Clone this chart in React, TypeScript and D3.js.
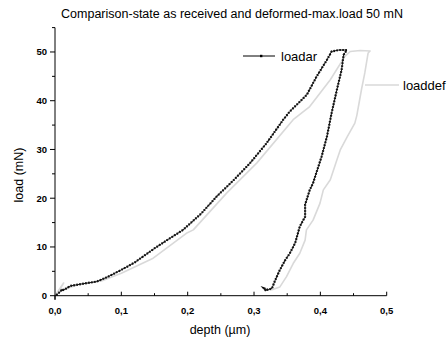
import React from "react";
import * as d3 from "d3";

const title = "Comparison-state as received and deformed-max.load 50 mN";
const xTicks = [0, 0.1, 0.2, 0.3, 0.4, 0.5];
const yTicks = [0, 10, 20, 30, 40, 50];

const loadarDepth = [0.002, 0.006, 0.011, 0.009, 0.015, 0.023, 0.04, 0.063, 0.08, 0.1, 0.12, 0.151, 0.17, 0.193, 0.22, 0.244, 0.27, 0.294, 0.319, 0.344, 0.354, 0.3795, 0.3945, 0.41, 0.417, 0.428, 0.44,
  0.435, 0.432, 0.425, 0.417, 0.41, 0.402, 0.397, 0.389, 0.384, 0.377, 0.377, 0.369, 0.362, 0.354, 0.347, 0.339, 0.332, 0.327, 0.321, 0.315, 0.318];
const loadarLoad = [0.1, 0.6, 1.3, 1.0, 1.3, 2.0, 2.4, 2.9, 3.9, 5.3, 6.8, 9.8, 11.5, 13.5, 16.8, 20.4, 23.8, 27.2, 31.3, 36.1, 37.8, 41.2, 45, 48.4, 50.1, 50.4, 50.4,
  49.4, 46.3, 42.3, 37.5, 32.7, 28.6, 26.5, 23.1, 21.7, 18.7, 16.2, 14.2, 10.8, 8.7, 7.3, 5.3, 3.2, 1.5, 1.2, 1.5, 1.0];

const loaddefDepth = [0.0, 0.013, 0.007, 0.02, 0.038, 0.07, 0.1, 0.148, 0.198, 0.2085, 0.259, 0.304, 0.359, 0.384, 0.415, 0.437, 0.445, 0.46, 0.475,
  0.472, 0.467, 0.462, 0.455, 0.452, 0.44, 0.43, 0.425, 0.415, 0.4045, 0.3995, 0.389, 0.379, 0.377, 0.369, 0.359, 0.349, 0.339, 0.329, 0.324];
const loaddefLoad = [0.0, 2.6, 1.2, 1.6, 2.4, 3.0, 4.6, 7.7, 12.8, 13.5, 21.1, 27.2, 36.1, 38.8, 44.3, 49.1, 50.1, 50.3, 50.2,
  49.8, 45.7, 42.3, 37, 35.4, 32.5, 29.9, 27.9, 23.8, 21.7, 19, 15.5, 13.5, 11.4, 8.7, 6.6, 3.9, 1.8, 1.3, 1.2];

const W = 448, H = 342;
const x = d3.scaleLinear().domain([0, 0.5]).range([55, 386.7]);
const y = d3.scaleLinear().domain([0, 55]).range([295.7, 27.6]);
const fmt = (v: number) => v.toFixed(1).replace(".", ",");

export default function App() {
  const line = d3.line<[number, number]>().x(d => x(d[0])).y(d => y(d[1]));
  const ar = line(loadarDepth.map((d, i) => [d, loadarLoad[i]] as [number, number])) || "";
  const def = line(loaddefDepth.map((d, i) => [d, loaddefLoad[i]] as [number, number])) || "";
  const xMinor = d3.range(0.05, 0.5, 0.1);
  const yMinor = [5, 15, 25, 35, 45, 55];
  const font = "'Liberation Sans', Arial, sans-serif";
  return (
    <svg width={W} height={H} style={{ position: "absolute", left: 0, top: 0, background: "#fff" }} fontFamily={font}>
      <text x={232} y={18} textAnchor="middle" fontSize={12.5}>{title}</text>
      <path d={def} fill="none" stroke="#d9d9d9" strokeWidth={1.6} strokeLinejoin="round" />
      <path d={ar} fill="none" stroke="#000" strokeWidth={0.9} strokeLinejoin="round" />
      <path d={ar} fill="none" stroke="#111" strokeWidth={2.2} strokeDasharray="1.6,1.4" />
      {/* axes */}
      <line x1={x(0)} x2={x(0.5)} y1={y(0)} y2={y(0)} stroke="#000" strokeWidth={1} />
      <line x1={x(0)} x2={x(0)} y1={y(0) + 4} y2={y(55)} stroke="#000" strokeWidth={1} />
      {xTicks.map(t => (
        <g key={"x" + t}>
          <line x1={x(t)} x2={x(t)} y1={y(0)} y2={t === 0 ? y(0) + 4 : y(0) - 4} stroke="#000" />
          <text x={x(t)} y={313.5} textAnchor="middle" fontSize={9.5} fontWeight="bold">{fmt(t)}</text>
        </g>
      ))}
      {xMinor.map(t => (
        <line key={"xm" + t} x1={x(t)} x2={x(t)} y1={y(0)} y2={y(0) - 2.5} stroke="#000" />
      ))}
      {yTicks.map(t => (
        <g key={"y" + t}>
          <line x1={x(0) - 5} x2={x(0)} y1={y(t)} y2={y(t)} stroke="#000" />
          <text x={x(0) - 8} y={y(t) + 3.4} textAnchor="end" fontSize={9.5} fontWeight="bold">{t}</text>
        </g>
      ))}
      {yMinor.map(t => (
        <line key={"ym" + t} x1={x(0) - 3} x2={x(0)} y1={y(t)} y2={y(t)} stroke="#000" />
      ))}
      <text x={220} y={334} textAnchor="middle" fontSize={12.5}>depth (µm)</text>
      <text transform={`translate(23,${175}) rotate(-90)`} textAnchor="middle" fontSize={12.5}>load (mN)</text>
      {/* legend */}
      <line x1={243} x2={275} y1={56} y2={56} stroke="#000" />
      <rect x={260} y={54.8} width={2.4} height={2.4} fill="#000" />
      <text x={281} y={60.5} fontSize={13}>loadar</text>
      <line x1={365} x2={399} y1={85} y2={85} stroke="#d9d9d9" strokeWidth={1.6} />
      <text x={403} y={89.5} fontSize={13}>loaddef</text>
    </svg>
  );
}
